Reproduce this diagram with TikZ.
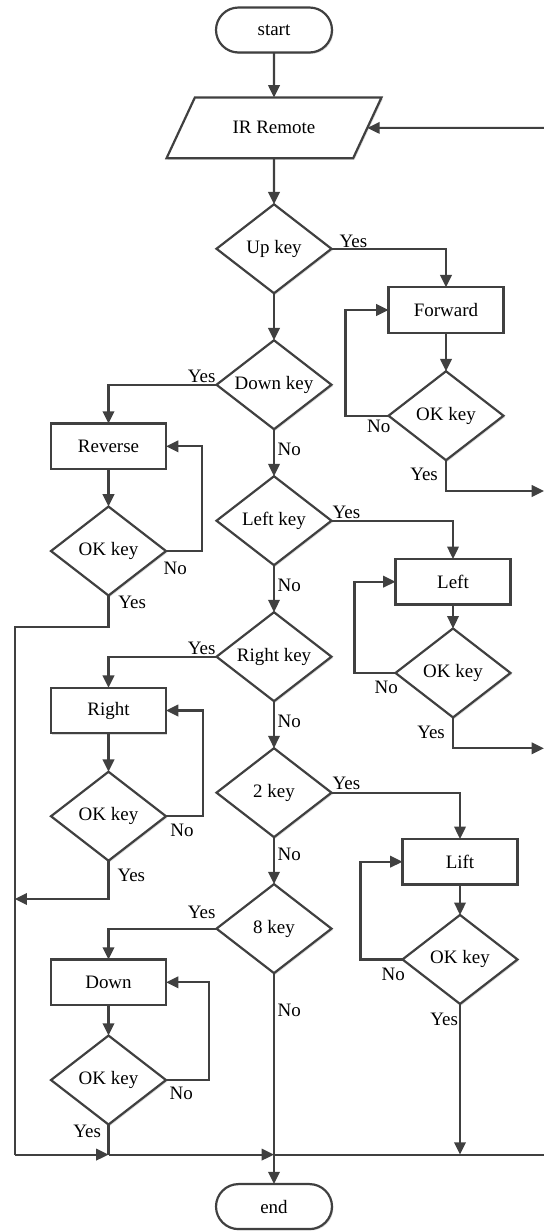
\documentclass[tikz,border=0pt]{standalone}
\usepackage{fontspec}
\setmainfont{Liberation Serif}
\usetikzlibrary{arrows.meta,positioning,shapes.geometric,shadows}
\definecolor{ink}{HTML}{404040}
\tikzset{
terminal/.style={draw=ink,fill=white,line width=1.25pt,outer sep=0pt,rounded corners=0.45cm,minimum width=2.32cm,minimum height=0.9cm,inner sep=0pt,shade box},
inputbox/.style={draw=ink,fill=white,line width=1.25pt,outer sep=0pt,trapezium,trapezium left angle=65,trapezium right angle=115,trapezium stretches body,minimum width=4.3cm,inner xsep=0pt,inner ysep=12.3pt,text height=8pt,text depth=2pt,shade box},
process/.style={draw=ink,fill=white,line width=1.25pt,outer sep=0pt,minimum width=2.3cm,minimum height=0.91cm,inner sep=0pt,shade box},
decision/.style={draw=ink,fill=white,line width=1.25pt,outer sep=0pt,diamond,aspect=1.3,minimum width=2.3cm,minimum height=1.78cm,inner sep=0pt,shade box},
shade box/.style={drop shadow={shadow xshift=0.8pt,shadow yshift=-0.8pt,fill=black,opacity=0.15}},
flow/.style={draw=ink,line width=1.25pt,-{Triangle[length=7pt,width=6.5pt]}},
link/.style={draw=ink,line width=1.25pt},
lbl/.style={inner sep=0pt}
}
\begin{document}
\begin{tikzpicture}[x=0.02cm,y=-0.02cm,font=\fontsize{10.8}{13}\selectfont]
\useasboundingbox (0,0) rectangle (544,1231);
% main column
\node[terminal] (start) at (274,30) {start};
\node[inputbox,below=0.9cm of start] (ir) {IR Remote};
\node[decision,below=0.92cm of ir] (upkey) {Up key};
\node[decision,below=0.94cm of upkey] (downkey) {Down key};
\node[decision,below=0.94cm of downkey] (leftkey) {Left key};
\node[decision,below=0.94cm of leftkey] (rightkey) {Right key};
\node[decision,below=0.94cm of rightkey] (twokey) {2 key};
\node[decision,below=0.94cm of twokey] (eightkey) {8 key};
\node[terminal,below=4.22cm of eightkey] (end) {end};
% branches
\node[process] (fwdbox) at (446,310) {Forward};
\node[decision,below=0.77cm of fwdbox] (okfwd) {OK key};
\node[process] (revbox) at (108.5,446.3) {Reverse};
\node[decision,below=0.75cm of revbox] (okrev) {OK key};
\node[process] (leftbox) at (453,581.7) {Left};
\node[decision,below=0.48cm of leftbox] (okleft) {OK key};
\node[process] (rightbox) at (108.5,710.5) {Right};
\node[decision,below=0.77cm of rightbox] (okright) {OK key};
\node[process] (liftbox) at (460,861.7) {Lift};
\node[decision,below=0.61cm of liftbox] (oklift) {OK key};
\node[process] (downbox) at (108.5,982.3) {Down};
\node[decision,below=0.61cm of downbox] (okdown) {OK key};
% free ends
\coordinate (irback) at (ir -| 544,0);
\coordinate (fwdout) at (544,491);
\coordinate (leftout) at (544,748.3);
\coordinate[above=0.59cm of end] (jmain);
\coordinate (botout) at (jmain -| 544,0);
\coordinate (jdown) at (okdown.south |- jmain);
\coordinate (jlift) at (oklift.south |- jmain);
\coordinate (railtop) at (14.7,627.3);
\coordinate (railmid) at (14.7,899);
\coordinate (railbot) at (railtop |- jmain);
% main flow
\draw[flow] (start) -- (ir);
\draw[flow] (ir) -- (upkey);
\draw[flow] (upkey) -- (downkey);
\draw[flow] (downkey.south) node[lbl,anchor=base west,xshift=1.5pt,yshift=-14.7pt]{No} -- (leftkey);
\draw[flow] (leftkey.south) node[lbl,anchor=base west,xshift=1.5pt,yshift=-14.7pt]{No} -- (rightkey);
\draw[flow] (rightkey.south) node[lbl,anchor=base west,xshift=1.5pt,yshift=-14.7pt]{No} -- (twokey);
\draw[flow] (twokey.south) node[lbl,anchor=base west,xshift=1.5pt,yshift=-13pt]{No} -- (eightkey);
\draw[link] (eightkey.south) node[lbl,anchor=base west,xshift=1.5pt,yshift=-24.5pt]{No} -- (jmain);
\draw[flow] (jmain) -- (end);
\draw[flow] (irback) -- (ir);
% yes branches
\draw[flow] (upkey.east) node[lbl,anchor=base west,xshift=4pt,yshift=0.8pt]{Yes} -| (fwdbox);
\draw[flow] (downkey.west) node[lbl,anchor=base east,yshift=1.2pt]{Yes} -| (revbox);
\draw[flow] (leftkey.east) node[lbl,anchor=base west,yshift=1.3pt]{Yes} -| (leftbox);
\draw[flow] (rightkey.west) node[lbl,anchor=base east,yshift=1.5pt]{Yes} -| (rightbox);
\draw[flow] (twokey.east) node[lbl,anchor=base west,yshift=1.7pt]{Yes} -| (liftbox);
\draw[flow] (eightkey.west) node[lbl,anchor=base east,yshift=5.9pt]{Yes} -| (downbox);
% boxes to OK keys
\draw[flow] (fwdbox) -- (okfwd);
\draw[flow] (revbox) -- (okrev);
\draw[flow] (leftbox) -- (okleft);
\draw[flow] (rightbox) -- (okright);
\draw[flow] (liftbox) -- (oklift);
\draw[flow] (downbox) -- (okdown);
% no loops
\draw[flow] (okfwd.west) node[lbl,anchor=base east,xshift=1.7pt,yshift=-9.5pt]{No} -- ++(-43,0) |- (fwdbox.west);
\draw[flow] (okrev.east) node[lbl,anchor=base west,xshift=-2pt,yshift=-13.4pt]{No} -- ++(36,0) |- (revbox.east);
\draw[flow] (okleft.west) node[lbl,anchor=base east,xshift=1.9pt,yshift=-11.6pt]{No} -- ++(-41,0) |- (leftbox.west);
\draw[flow] (okright.east) node[lbl,anchor=base west,xshift=1.9pt,yshift=-11.6pt]{No} -- ++(37,0) |- (rightbox.east);
\draw[flow] (oklift.west) node[lbl,anchor=base east,xshift=1.9pt,yshift=-12.2pt]{No} -- ++(-42,0) |- (liftbox.west);
\draw[flow] (okdown.east) node[lbl,anchor=base west,xshift=1.5pt,yshift=-11pt]{No} -- ++(43,0) |- (downbox.east);
% ok exits
\draw[flow] (okfwd.south) node[lbl,anchor=base east,xshift=-4pt,yshift=-11.7pt]{Yes} |- (fwdout);
\draw[flow] (okleft.south) node[lbl,anchor=base east,xshift=-4pt,yshift=-11.9pt]{Yes} |- (leftout);
\draw[link] (okrev.south) node[lbl,anchor=base west,xshift=5pt,yshift=-7.4pt]{Yes} |- (railtop) -- (railbot);
\draw[flow] (okright.south) node[lbl,anchor=base west,xshift=4.5pt,yshift=-11.7pt]{Yes} |- (railmid);
\draw[flow] (oklift.south) node[lbl,anchor=base east,xshift=-0.5pt,yshift=-12.3pt]{Yes} -- (jlift);
\draw[link] (okdown.south) node[lbl,anchor=base east,xshift=-3.7pt,yshift=-7.1pt]{Yes} -- (jdown);
\draw[flow] (railbot) -- (jdown);
\draw[flow] (jdown) -- (jmain);
\draw[link] (botout) -- (jmain);
\end{tikzpicture}
\end{document}
